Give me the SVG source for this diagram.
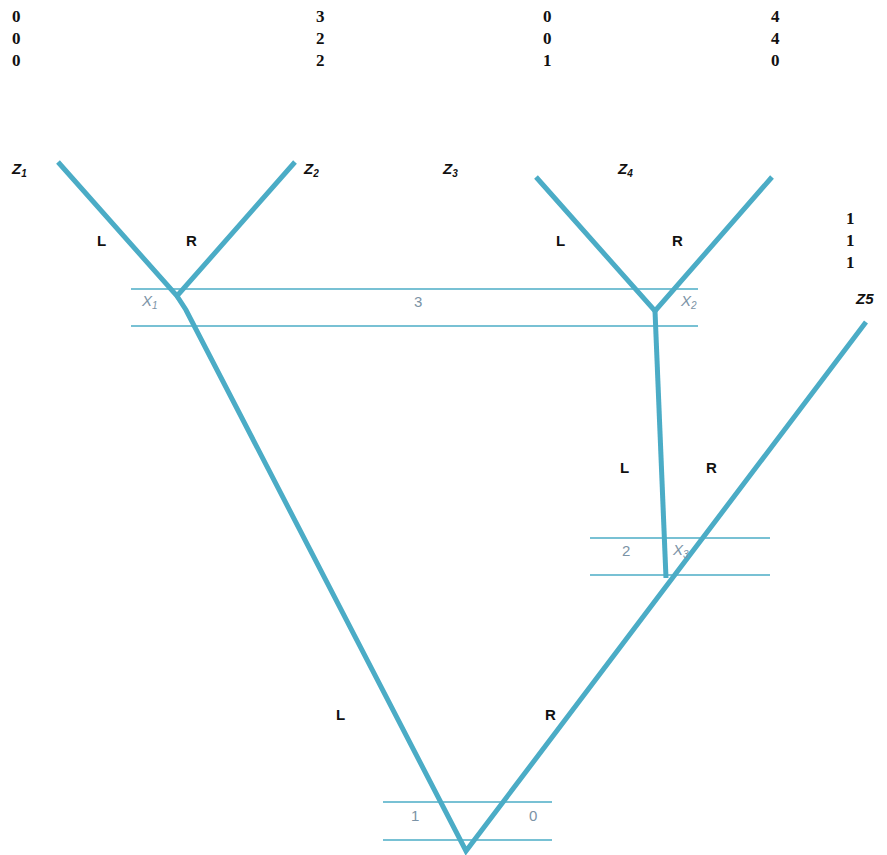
<svg xmlns="http://www.w3.org/2000/svg" width="887" height="855" viewBox="0 0 887 855">
<style>
.num{font-family:"Liberation Serif",serif;font-weight:bold;font-size:17px;fill:#111}
.lab{font-family:"Liberation Sans",sans-serif;font-weight:bold;font-size:15px;fill:#111}
.z{font-family:"Liberation Sans",sans-serif;font-weight:bold;font-style:italic;font-size:15px;fill:#111}
.sub{font-size:10px}
.box{font-family:"Liberation Sans",sans-serif;font-size:15px;fill:#7b93a6}
.xl{font-family:"Liberation Sans",sans-serif;font-style:italic;font-size:15px;fill:#7b93a6}
.thick{stroke:#4BACC6;stroke-width:5;fill:none;stroke-linejoin:miter}
.thin{stroke:#4BACC6;stroke-width:1.6;fill:none}
</style>
<rect width="887" height="855" fill="#fff"/>
<g id="payoffs">
<text class="num" x="12" y="22">0</text><text class="num" x="12" y="44">0</text><text class="num" x="12" y="66">0</text>
<text class="num" x="316" y="22">3</text><text class="num" x="316" y="44">2</text><text class="num" x="316" y="66">2</text>
<text class="num" x="543" y="22">0</text><text class="num" x="543" y="44">0</text><text class="num" x="543" y="66">1</text>
<text class="num" x="771" y="22">4</text><text class="num" x="771" y="44">4</text><text class="num" x="771" y="66">0</text>
<text class="num" x="846" y="224">1</text><text class="num" x="846" y="246">1</text><text class="num" x="846" y="268">1</text>
</g>
<g id="info-sets">
<line class="thin" x1="131" y1="289" x2="698" y2="289"/>
<line class="thin" x1="131" y1="326" x2="698" y2="326"/>
<line class="thin" x1="590" y1="538" x2="770" y2="538"/>
<line class="thin" x1="590" y1="575" x2="770" y2="575"/>
<line class="thin" x1="383" y1="802" x2="552" y2="802"/>
<line class="thin" x1="383" y1="840" x2="552" y2="840"/>
</g>
<g id="connectors">
<polyline class="thick" points="58,162 177,296 295,162"/>
<polyline class="thick" points="177,296 186,310 466,851 866,322"/>
<polyline class="thick" points="536,177 655,311 772,177"/>
<polyline class="thick" points="655,311 666,578"/>
</g>
<g id="z1"><text class="z" x="12" y="174">Z<tspan class="sub" dy="3">1</tspan></text></g>
<g id="z2"><text class="z" x="304" y="174">Z<tspan class="sub" dy="3">2</tspan></text></g>
<g id="z3"><text class="z" x="443" y="174">Z<tspan class="sub" dy="3">3</tspan></text></g>
<g id="z4"><text class="z" x="618" y="174">Z<tspan class="sub" dy="3">4</tspan></text></g>
<g id="z5"><text class="z" x="856" y="304">Z5</text></g>
<g id="x1"><text class="xl" x="142" y="306">X<tspan class="sub" dy="3">1</tspan></text><text class="box" x="414" y="307">3</text></g>
<g id="x2"><text class="xl" x="681" y="306">X<tspan class="sub" dy="3">2</tspan></text></g>
<g id="x3"><text class="xl" x="673" y="555">X<tspan class="sub" dy="3">3</tspan></text><text class="box" x="622" y="556">2</text></g>
<g id="root"><text class="box" x="411" y="821">1</text><text class="box" x="529" y="821">0</text></g>
<g id="branch-labels">
<text class="lab" x="97" y="246">L</text><text class="lab" x="186" y="246">R</text>
<text class="lab" x="556" y="246">L</text><text class="lab" x="672" y="246">R</text>
<text class="lab" x="620" y="473">L</text><text class="lab" x="706" y="473">R</text>
<text class="lab" x="336" y="720">L</text><text class="lab" x="545" y="720">R</text>
</g>
</svg>
